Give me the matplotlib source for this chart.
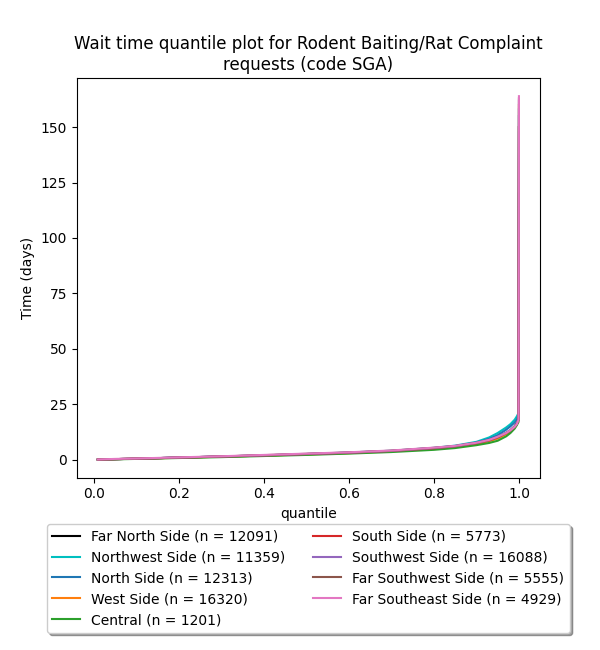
import matplotlib
matplotlib.use("Agg")
import matplotlib.pyplot as plt

quantiles = [0.01, 0.05, 0.10, 0.20, 0.30, 0.40, 0.50, 0.60, 0.70,
             0.80, 0.85, 0.90, 0.93, 0.95, 0.97, 0.98, 0.99, 0.995, 0.999, 1.00]

regions = ["Far North Side", "Northwest Side", "North Side", "West Side",
           "Central", "South Side", "Southwest Side", "Far Southwest Side",
           "Far Southeast Side"]
counts = [12091, 11359, 12313, 16320, 1201, 5773, 16088, 5555, 4929]
colors = ["k", "c", "tab:blue", "tab:orange", "tab:green",
          "tab:red", "tab:purple", "tab:brown", "tab:pink"]

far_north = [0.0, 0.2, 0.4, 0.9, 1.3, 1.8, 2.4, 3.0, 3.8, 5.0, 5.9, 7.3, 8.6, 9.8, 11.8, 13.0, 15.0, 16.5, 18.5, 150]
northwest = [0.0, 0.2, 0.4, 0.9, 1.4, 1.9, 2.5, 3.2, 4.0, 5.3, 6.3, 8.0, 10.0, 12.0, 14.5, 16.0, 18.0, 19.5, 21.0, 158]
north = [0.0, 0.2, 0.4, 0.9, 1.4, 1.9, 2.5, 3.1, 3.9, 5.2, 6.1, 7.7, 9.3, 11.0, 13.5, 15.0, 16.8, 18.0, 20.0, 155]
west = [0.0, 0.2, 0.4, 0.8, 1.3, 1.8, 2.3, 2.9, 3.7, 4.9, 5.7, 7.1, 8.3, 9.5, 11.5, 12.8, 14.6, 16.0, 18.0, 160]
central = [0.0, 0.1, 0.3, 0.7, 1.1, 1.6, 2.1, 2.7, 3.4, 4.4, 5.2, 6.5, 7.5, 8.5, 10.5, 12.0, 14.0, 15.5, 17.0, 120]
south = [0.0, 0.2, 0.4, 0.9, 1.4, 1.9, 2.5, 3.1, 3.9, 5.1, 6.0, 7.4, 8.7, 10.0, 12.0, 13.2, 15.0, 16.2, 18.0, 150]
southwest = [0.0, 0.2, 0.4, 0.9, 1.4, 1.9, 2.5, 3.1, 3.9, 5.2, 6.0, 7.5, 8.8, 10.2, 12.2, 13.4, 15.1, 16.3, 18.2, 162]
far_southwest = [0.0, 0.2, 0.4, 0.9, 1.4, 2.0, 2.6, 3.2, 4.0, 5.3, 6.1, 7.5, 8.8, 10.1, 12.0, 13.1, 14.8, 16.0, 18.0, 163]
far_southeast = [0.05, 0.3, 0.5, 1.0, 1.5, 2.1, 2.7, 3.3, 4.1, 5.4, 6.2, 7.6, 8.9, 10.3, 12.0, 13.2, 14.8, 16.0, 18.0, 164]

series = [far_north, northwest, north, west, central,
          south, southwest, far_southwest, far_southeast]

fig, ax = plt.subplots(figsize=(6, 6.5), dpi=100)
fig.subplots_adjust(left=0.128, right=0.9, top=0.88, bottom=0.265)

for name, n, vals, col in zip(regions, counts, series, colors):
    ax.plot(quantiles, vals, color=col, label="%s (n = %d)" % (name, n))

ax.set_title("Wait time quantile plot for Rodent Baiting/Rat Complaint\nrequests (code SGA)")
ax.set_xlabel("quantile")
ax.set_ylabel("Time (days)")
ax.legend(loc="upper center", bbox_to_anchor=(0.5, -0.098), ncol=2, shadow=True)

fig.savefig("out.png")
